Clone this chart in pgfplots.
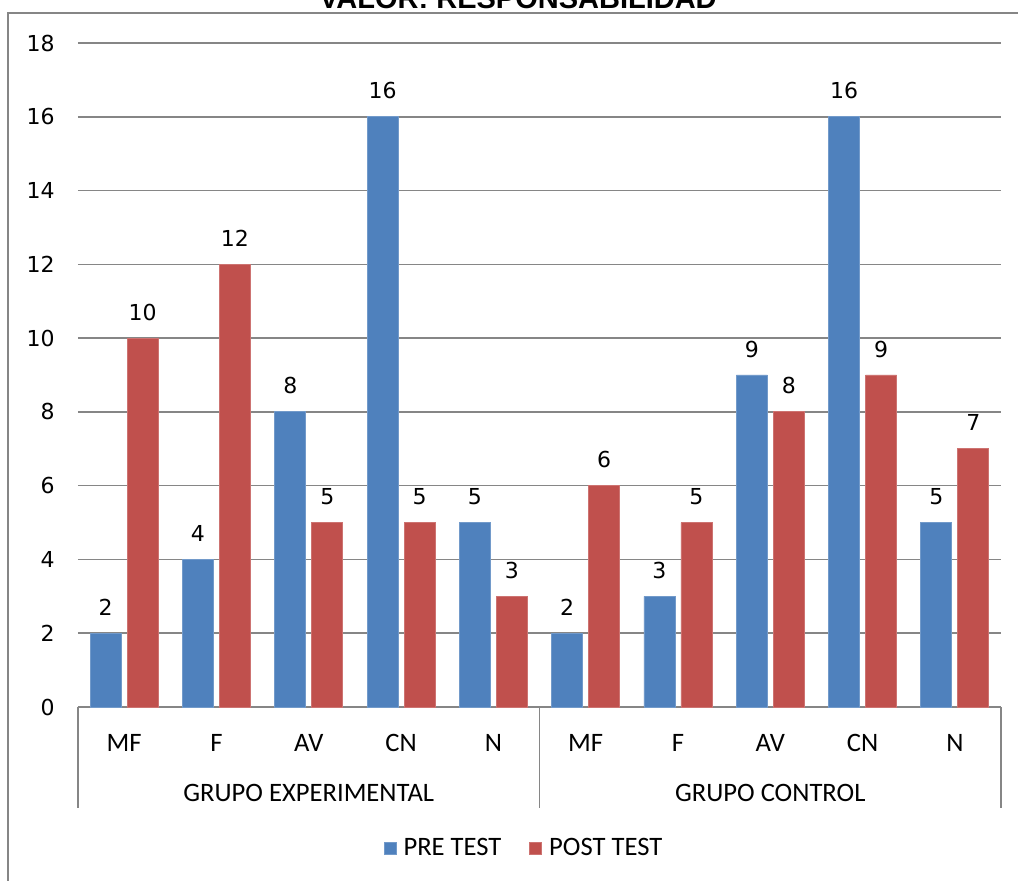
\documentclass[border=0pt]{standalone}
\usepackage{fontspec}
\setmainfont{Carlito}
\newfontfamily\numfont{DejaVu Sans}
\newfontfamily\titlefont{Liberation Sans}
\usepackage{pgfplots}
\pgfplotsset{compat=1.18}

\definecolor{preblue}{RGB}{79,129,189}
\definecolor{postred}{RGB}{192,80,77}
\definecolor{gridgray}{RGB}{134,134,134}

\begin{document}
\begin{tikzpicture}
\useasboundingbox (0,0) rectangle (509pt,-440.5pt);
\clip (0,0) rectangle (509pt,-440.5pt);
% chart area border and (cut off) title
\draw[gridgray, line width=0.6pt] (4pt,-450pt) -- (4pt,-6.5pt) -- (520pt,-6.5pt);
\node[font=\titlefont\bfseries\fontsize{14.5}{17}\selectfont, anchor=base] at (259pt,-4.5pt) {VALOR: RESPONSABILIDAD};

\begin{axis}[
    at={(39pt,-353.5pt)}, anchor=south west,
    scale only axis,
    width=461.5pt, height=332pt,
    clip=false,
    ybar=3pt, bar width=15.5pt,
    xmin=-0.5, xmax=9.5,
    ymin=0, ymax=18,
    xtick={0,...,9},
    xticklabels={MF,F,AV,CN,N,MF,F,AV,CN,N},
    extra x ticks={2,7},
    extra x tick labels={GRUPO EXPERIMENTAL,GRUPO CONTROL},
    extra x tick style={
        major grid style={draw=none},
        xticklabel style={yshift=-25pt}},
    ytick={0,2,...,18},
    ymajorgrids,
    major grid style={gridgray, line width=0.75pt},
    major tick length=0pt,
    axis line style={draw=none},
    font=\fontsize{13.3}{16}\selectfont,
    xticklabel style={anchor=center, inner sep=0pt, yshift=-18pt},
    yticklabel style={anchor=east, inner sep=0pt, xshift=-11.5pt, font=\numfont\fontsize{11}{13}\selectfont},
    /pgf/number format/assume math mode=true,
    nodes near coords,
    every node near coord/.append style={anchor=center, yshift=13pt, font=\numfont\fontsize{11}{13}\selectfont},
    legend columns=2,
    legend style={
        at={(0.4843,-0.2123)}, anchor=center,
        draw=none, fill=none,
        font=\fontsize{13.3}{16}\selectfont,
        /tikz/every even column/.append style={column sep=12pt},
        /tikz/every odd column/.append style={column sep=1.5pt}},
    legend image code/.code={\fill[#1] (0pt,-3pt) rectangle (6pt,3pt);},
]
\addplot[fill=preblue, draw=preblue!80!white] coordinates {
    (0,2) (1,4) (2,8) (3,16) (4,5)
    (5,2) (6,3) (7,9) (8,16) (9,5)
};
\addplot[fill=postred, draw=postred!80!white] coordinates {
    (0,10) (1,12) (2,5) (3,5) (4,3)
    (5,6) (6,5) (7,8) (8,9) (9,7)
};
\legend{PRE TEST, POST TEST}
% group separators of the two-level category axis
\draw[gridgray, line width=0.75pt] (axis cs:-0.5,0) -- ++(0pt,-50.5pt);
\draw[gridgray, line width=0.75pt] (axis cs:4.5,0) -- ++(0pt,-50.5pt);
\draw[gridgray, line width=0.75pt] (axis cs:9.5,0) -- ++(0pt,-50.5pt);
\end{axis}
\end{tikzpicture}
\end{document}
